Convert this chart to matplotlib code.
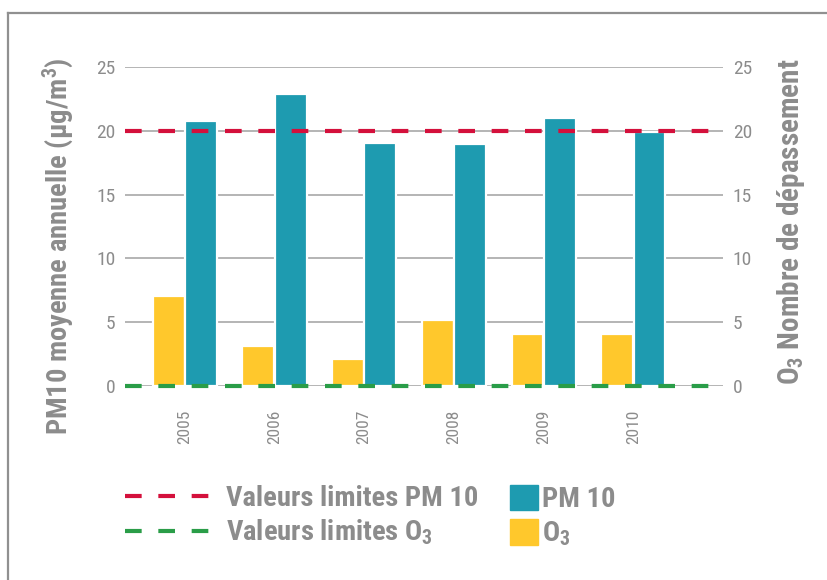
import numpy as np
import matplotlib.pyplot as plt
import matplotlib.font_manager as fm
from matplotlib.lines import Line2D
from matplotlib.patches import Patch

# donnees
annees = ['2005', '2006', '2007', '2008', '2009', '2010']
pm10 = [20.8, 22.9, 19.05, 19.0, 21.0, 19.9]
o3 = [7.05, 3.1, 2.15, 5.2, 4.1, 4.1]
limite_pm10 = 20
limite_o3 = 0
yticks = [0, 5, 10, 15, 20, 25]

bleu = '#1e9bb0'
jaune = '#ffc82c'
rouge = '#d4103c'
vert = '#2a9d48'
gris = '#8c8c8c'

# police etroite si disponible
dispo = set(f.name for f in fm.fontManager.ttflist)
police = 'DejaVu Sans'
for p in ['Roboto Condensed', 'Liberation Sans Narrow', 'Archivo Narrow',
          'PT Sans Narrow', 'Barlow Condensed', 'Sofia Sans Condensed']:
    if p in dispo:
        police = p
        break
narrow = [police, 'DejaVu Sans']
plt.rcParams['font.family'] = narrow
plt.rcParams['mathtext.default'] = 'regular'

fig = plt.figure(figsize=(8.28, 5.8), dpi=100)
ax = fig.add_axes([125/828, 1 - 386/580, (723-125)/828, (386-67)/580])

x = np.arange(len(annees))
ax.bar(x - 0.18, o3, 0.355, color=jaune, edgecolor='white', linewidth=1.6, zorder=2)
ax.bar(x + 0.18, pm10, 0.355, color=bleu, edgecolor='white', linewidth=1.6, zorder=2)
ax.axhline(limite_pm10, color=rouge, lw=3, ls=(0, (4, 4)), zorder=4, clip_on=False)
ax.axhline(limite_o3, color=vert, lw=3, ls=(0, (4, 4)), zorder=4, clip_on=False)

ax.set_xlim(-0.667, 6.0)
ax.set_ylim(0, 25)
ax.set_yticks(yticks)
ax.yaxis.grid(True, color='#a8a8a8', lw=1.2)
ax.set_axisbelow(True)
for s in ax.spines.values():
    s.set_visible(False)
ax.set_xticks(x)
ax.set_xticklabels(annees, rotation=90, fontsize=12.5, color=gris, va='top')
ax.tick_params(axis='x', length=0, pad=17)
ax.tick_params(axis='y', length=0, pad=7, labelsize=14, labelcolor=gris)

ax2 = ax.twinx()
ax2.set_ylim(0, 25)
ax2.set_yticks(yticks)
for s in ax2.spines.values():
    s.set_visible(False)
ax2.tick_params(axis='y', length=0, pad=7, labelsize=14, labelcolor=gris)

fig.text(58/828, 1 - 246/580, 'PM10 moyenne annuelle (µg/m$^3$)', rotation=90,
         ha='center', va='center', fontsize=20.5, fontweight='bold', color=gris)
fig.text(791/828, 1 - 222/580, 'O$_3$ Nombre de dépassement', rotation=90,
         ha='center', va='center', fontsize=21, fontweight='bold', color=gris)

# legende
h1 = [Line2D([], [], color=rouge, lw=3, ls=(0, (4, 4))),
      Line2D([], [], color=vert, lw=3, ls=(0, (4, 4)))]
leg1 = fig.legend(h1, ['Valeurs limites PM 10', 'Valeurs limites O$_3$'],
                  loc='upper left', bbox_to_anchor=(125/828, 1 - 485/580),
                  frameon=False, handlelength=3.25, handletextpad=0.28,
                  borderpad=0, borderaxespad=0, labelspacing=0.2,
                  prop={'size': 20.5, 'weight': 'bold', 'family': narrow})
for t in leg1.get_texts():
    t.set_color(gris)
h2 = [Patch(color=bleu), Patch(color=jaune)]
leg2 = fig.legend(h2, ['PM 10', 'O$_3$'],
                  loc='upper left', bbox_to_anchor=(510/828, 1 - 485/580),
                  frameon=False, handlelength=0.98, handleheight=1.0, handletextpad=0.15,
                  borderpad=0, borderaxespad=0, labelspacing=0.2,
                  prop={'size': 20.5, 'weight': 'bold', 'family': narrow})
for t in leg2.get_texts():
    t.set_color(gris)

# cadre
fig.add_artist(Line2D([8/828, 8/828], [0, 1 - 13/580], transform=fig.transFigure, color='#909090', lw=1.6))
fig.add_artist(Line2D([8/828, 1], [1 - 13/580, 1 - 13/580], transform=fig.transFigure, color='#909090', lw=1.6))

plt.savefig('out.png', dpi=100)
